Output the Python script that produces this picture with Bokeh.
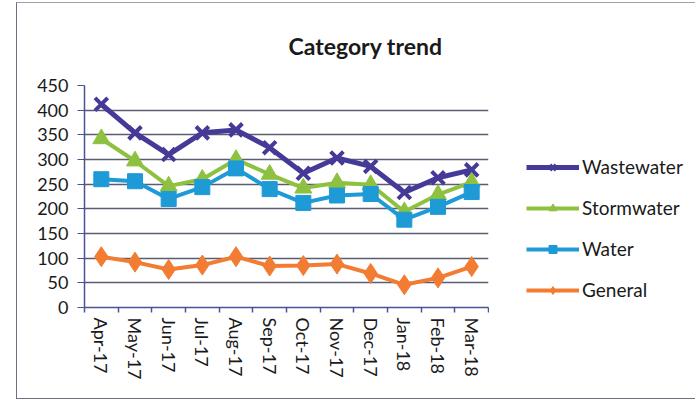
from bokeh.plotting import figure
from bokeh.layouts import row
from bokeh.models import Range1d, LinearAxis, FixedTicker, Legend, LegendItem
from bokeh.embed import file_html
from bokeh.resources import INLINE

months = ["Apr-17", "May-17", "Jun-17", "Jul-17", "Aug-17", "Sep-17",
          "Oct-17", "Nov-17", "Dec-17", "Jan-18", "Feb-18", "Mar-18"]
wastewater = [412, 354, 310, 354, 360, 324, 272, 303, 286, 233, 263, 279]
stormwater = [342, 297, 246, 260, 300, 270, 242, 253, 249, 194, 229, 254]
water = [260, 256, 220, 244, 282, 240, 212, 227, 230, 178, 204, 234]
general = [103, 92, 77, 86, 103, 84, 85, 88, 69, 46, 60, 83]
y_ticks = [0, 50, 100, 150, 200, 250, 300, 350, 400, 450]

FONT = "Lato"
n = len(months)
xpos = list(range(n))  # category positions

p = figure(x_range=Range1d(-0.5, n - 0.5), y_range=Range1d(0, 450),
           width=472, height=395, output_backend="svg", toolbar_location=None,
           x_axis_location=None,
           min_border_left=67, min_border_right=1, min_border_top=81, min_border_bottom=91,
           title="Category trend")

p.title.text_font = FONT
p.title.text_font_size = "23px"
p.title.text_font_style = "bold"
p.title.text_color = "#1a1a1a"
p.title.align = "left"
p.title.offset = 204
p.title.standoff = 52

p.outline_line_color = None
p.background_fill_color = "white"
p.border_fill_color = "white"

# y axis
p.yaxis.ticker = FixedTicker(ticks=y_ticks)
p.yaxis.axis_line_color = "#4a5394"
p.yaxis.axis_line_width = 1.5
p.yaxis.major_tick_line_color = "#4a5394"
p.yaxis.major_tick_in = 0
p.yaxis.major_tick_out = 7
p.yaxis.minor_tick_line_color = None
p.yaxis.major_label_text_font = FONT
p.yaxis.major_label_text_font_size = "18px"
p.yaxis.major_label_text_color = "#1a1a1a"
p.yaxis.major_label_standoff = 9

p.ygrid.ticker = FixedTicker(ticks=y_ticks)
p.ygrid.grid_line_color = "#585d72"
p.ygrid.grid_line_width = 1.6
p.xgrid.visible = False

# x axis: labels at category centres, minor tick marks on category boundaries
x_axis = LinearAxis(ticker=FixedTicker(ticks=xpos, minor_ticks=[i - 0.5 for i in range(n + 1)]),
                    major_label_overrides={i: m for i, m in enumerate(months)},
                    major_label_orientation="vertical",
                    major_tick_line_color=None, major_tick_in=0, major_tick_out=5,
                    minor_tick_line_color="#4a5394", minor_tick_in=0, minor_tick_out=5,
                    minor_tick_line_width=1.5,
                    axis_line_color="#4a5394", axis_line_width=1.5,
                    major_label_text_font=FONT, major_label_text_font_size="18px",
                    major_label_text_color="#1a1a1a", major_label_standoff=5)
p.add_layout(x_axis, "below")

series = [
    ("Wastewater", wastewater, "#463a98", "x", 18, 5),
    ("Stormwater", stormwater, "#8dc13f", "triangle", 17, 4),
    ("Water", water, "#1e9ad6", "square", 15, 4),
    ("General", general, "#f37c33", "diamond", 20, 4),
]
for name, vals, color, marker, size, lw in series:
    p.line(xpos, vals, line_color=color, line_width=lw)
    p.scatter(xpos, vals, marker=marker, size=size, fill_color=color,
              line_color=color, line_width=4 if marker == "x" else 1)

# legend panel to the right of the chart (hidden copies of the series feed its glyphs)
lg = figure(width=206, height=395, output_backend="svg", toolbar_location=None,
            x_range=Range1d(-0.5, n - 0.5), y_range=Range1d(0, 450),
            x_axis_location=None, y_axis_location=None,
            min_border_left=0, min_border_right=0, min_border_top=0, min_border_bottom=0)
lg.outline_line_color = None
lg.grid.visible = False
lg.border_fill_color = "white"
items = []
for name, vals, color, marker, size, lw in series:
    r1 = lg.line(xpos, vals, line_color=color, line_width=lw, visible=False)
    r2 = lg.scatter(xpos, vals, marker=marker, size=size, fill_color=color,
                    line_color=color, line_width=3 if marker == "x" else 1, visible=False)
    items.append(LegendItem(label=name, renderers=[r1, r2]))
legend = Legend(items=items, location=(37, 6), padding=0, margin=0,
                border_line_color=None, background_fill_alpha=0,
                glyph_width=53, glyph_height=20, label_height=20, spacing=18,
                label_standoff=3, label_text_font=FONT, label_text_font_size="19px",
                label_text_color="#1a1a1a")
lg.add_layout(legend, "center")

layout = row(p, lg)
layout.styles = {"margin-left": "16px", "margin-top": "2px",
                 "border-left": "1px solid #6f7080", "border-top": "1px solid #a0a0aa",
                 "border-bottom": "1px solid #6f7080"}

open("out.html", "w").write(file_html(layout, INLINE))
